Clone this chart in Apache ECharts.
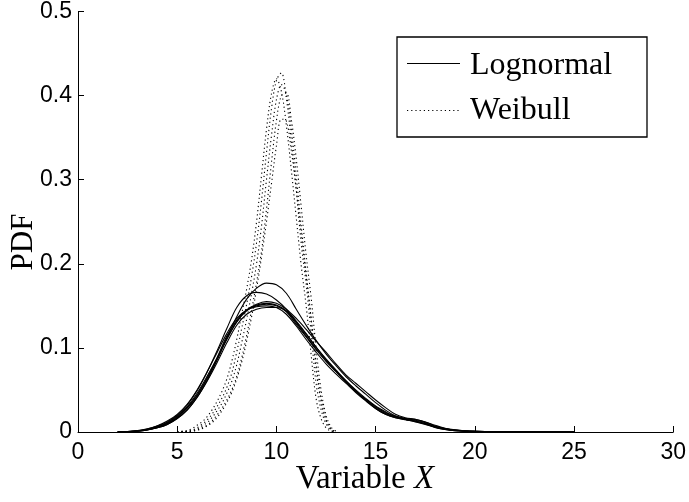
<!DOCTYPE html>
<html>
<head>
<meta charset="utf-8">
<script src="https://cdn.jsdelivr.net/npm/echarts@6/dist/echarts.min.js"></script>
<style>html,body{margin:0;padding:0;background:#fff;}#c{width:689px;height:502px;}</style>
</head>
<body>
<div id="c"></div>
<script>
// ---- data ----
const xTicks = [0, 5, 10, 15, 20, 25, 30];
const yTicks = [0, 0.1, 0.2, 0.3, 0.4, 0.5];

const logX = [2,2.5,3,3.5,4,4.5,5,5.5,6,6.5,7,7.5,8,8.5,9,9.5,10,10.5,11,11.5,12,12.5,13,13.5,14,14.5,15,15.5,16,16.5,17,17.5,18,18.5,19,19.5,20,21,22,23,24,25];
const logA = [0,0.0003,0.001,0.0025,0.005,0.009,0.016,0.026,0.041,0.061,0.085,0.112,0.137,0.158,0.171,0.177,0.175,0.165,0.146,0.127,0.109,0.093,0.079,0.066,0.055,0.045,0.035,0.026,0.019,0.015,0.012,0.009,0.0055,0.003,0.0015,0.0008,0.0005,0.0002,0.0001,0,0,0];
const logB = [0,0.0005,0.0015,0.0035,0.007,0.012,0.020,0.032,0.049,0.071,0.096,0.123,0.148,0.162,0.166,0.164,0.157,0.146,0.131,0.116,0.101,0.087,0.074,0.061,0.049,0.038,0.028,0.021,0.017,0.0145,0.0125,0.0095,0.0055,0.003,0.0015,0.001,0.0006,0.0003,0.0001,0,0,0];
const logC = [0,0.0004,0.0012,0.003,0.006,0.011,0.019,0.030,0.046,0.066,0.088,0.114,0.133,0.145,0.150,0.152,0.150,0.143,0.128,0.113,0.098,0.084,0.072,0.060,0.049,0.039,0.030,0.023,0.019,0.016,0.014,0.011,0.006,0.0035,0.002,0.0012,0.0008,0.0004,0.0002,0.0001,0.00005,0];
const logD = [0,0.0003,0.001,0.0025,0.005,0.009,0.016,0.026,0.041,0.060,0.082,0.106,0.127,0.140,0.146,0.148,0.148,0.144,0.132,0.117,0.101,0.086,0.073,0.061,0.050,0.040,0.031,0.024,0.018,0.015,0.013,0.010,0.006,0.0035,0.002,0.0012,0.0008,0.0004,0.0002,0.0001,0.00005,0];
const logE = [0,0.0004,0.0012,0.003,0.0055,0.010,0.017,0.028,0.043,0.063,0.086,0.110,0.131,0.145,0.152,0.155,0.153,0.146,0.135,0.122,0.108,0.095,0.081,0.068,0.058,0.048,0.038,0.029,0.021,0.017,0.015,0.012,0.007,0.004,0.002,0.0012,0.0008,0.0004,0.0002,0.0001,0.00005,0];
const logF = [0.0001,0.0006,0.0016,0.0038,0.0075,0.013,0.021,0.033,0.050,0.071,0.094,0.117,0.135,0.145,0.149,0.150,0.148,0.140,0.126,0.110,0.095,0.081,0.069,0.058,0.047,0.037,0.028,0.021,0.017,0.015,0.013,0.010,0.0065,0.004,0.0022,0.0013,0.0008,0.0004,0.0002,0.0001,0.00005,0];
const logG = [0,0.0004,0.0011,0.0028,0.0058,0.010,0.018,0.029,0.044,0.064,0.087,0.111,0.131,0.144,0.151,0.153,0.151,0.144,0.130,0.114,0.099,0.085,0.072,0.059,0.048,0.038,0.029,0.022,0.018,0.016,0.015,0.012,0.008,0.0045,0.0025,0.0014,0.0009,0.0004,0.0002,0.0001,0.00005,0];

const weiX = [5,5.25,5.5,5.75,6,6.25,6.5,6.75,7,7.25,7.5,7.75,8,8.25,8.5,8.75,9,9.25,9.5,9.75,10,10.25,10.5,10.75,11,11.25,11.5,11.75,12,12.25,12.5,12.75,13];
const weiA = [0,0.0005,0.001,0.002,0.005,0.009,0.014,0.021,0.030,0.040,0.053,0.070,0.095,0.123,0.152,0.185,0.225,0.275,0.332,0.384,0.418,0.427,0.397,0.346,0.289,0.224,0.176,0.118,0.058,0.027,0.010,0.002,0];
const weiB = [0,0.0003,0.0008,0.0015,0.0035,0.007,0.011,0.017,0.025,0.034,0.046,0.060,0.080,0.106,0.134,0.165,0.200,0.245,0.300,0.352,0.395,0.413,0.402,0.360,0.305,0.245,0.190,0.135,0.075,0.036,0.014,0.003,0];
const weiC = [0,0,0.0005,0.001,0.0025,0.005,0.008,0.013,0.020,0.028,0.038,0.050,0.066,0.088,0.115,0.145,0.178,0.215,0.265,0.320,0.370,0.400,0.403,0.372,0.325,0.268,0.210,0.160,0.100,0.050,0.020,0.006,0.001];
const weiD = [0.0005,0.001,0.002,0.004,0.008,0.012,0.018,0.026,0.036,0.048,0.063,0.084,0.110,0.140,0.170,0.205,0.250,0.305,0.360,0.402,0.420,0.405,0.365,0.312,0.255,0.198,0.150,0.092,0.040,0.016,0.005,0.001,0];
const weiE = [0,0,0.0003,0.001,0.002,0.004,0.007,0.011,0.017,0.025,0.035,0.047,0.063,0.083,0.108,0.137,0.170,0.208,0.250,0.295,0.340,0.372,0.370,0.335,0.288,0.236,0.185,0.135,0.082,0.040,0.015,0.004,0];

const legendNames = ['Lognormal', 'Weibull'];
const xTitle = 'Variable ';
const xTitleItalic = 'X';
const yTitle = 'PDF';

// ---- chart ----
const serif = '"Liberation Serif", "DejaVu Serif", serif';
const sans = '"Liberation Sans", Arial, sans-serif';
const dotDash = [1.2, 3];

const logSeries = [logA, logB, logC, logD, logE, logF, logG].map(arr => ({
  type: 'line', name: legendNames[0], symbol: 'none', smooth: 0.35,
  data: logX.map((x, i) => [x, arr[i]]),
  lineStyle: { color: '#000', width: 1.1 }, itemStyle: { color: '#000' },
  silent: true, z: 3
}));
const weiSeries = [weiA, weiB, weiC, weiD, weiE].map(arr => ({
  type: 'line', name: legendNames[1], symbol: 'none', smooth: 0.35,
  data: weiX.map((x, i) => [x, arr[i]]),
  lineStyle: { color: '#000', width: 1.1, type: dotDash }, itemStyle: { color: '#000' },
  silent: true, z: 2
}));

const chart = echarts.init(document.getElementById('c'), null, { renderer: 'canvas' });
chart.setOption({
  animation: false,
  backgroundColor: '#fff',
  grid: { left: 78, right: 15, top: 10, bottom: 70, containLabel: false },
  xAxis: {
    type: 'value', min: xTicks[0], max: xTicks[xTicks.length - 1], interval: 5,
    axisLine: { show: true, lineStyle: { color: '#000', width: 1 } },
    axisTick: { show: true, inside: true, length: 6, lineStyle: { color: '#000' } },
    axisLabel: { color: '#000', fontFamily: sans, fontSize: 23, margin: 9 },
    splitLine: { show: false }
  },
  yAxis: {
    type: 'value', min: yTicks[0], max: yTicks[yTicks.length - 1], interval: 0.1,
    axisLine: { show: true, lineStyle: { color: '#000', width: 1 } },
    axisTick: { show: true, inside: true, length: 6, lineStyle: { color: '#000' } },
    axisLabel: { color: '#000', fontFamily: sans, fontSize: 23, margin: 6,
      formatter: v => (v === 0 ? '0' : v.toFixed(1)) },
    splitLine: { show: false }
  },
  graphic: [
    { type: 'text', z: 10, style: {
        text: '{n|' + xTitle + '}{i|' + xTitleItalic + '}',
        rich: { n: { fontFamily: serif, fontSize: 33, fill: '#000' },
                i: { fontFamily: serif, fontSize: 33, fontStyle: 'italic', fill: '#000' } },
        x: 365, y: 479, align: 'center', verticalAlign: 'middle' } },
    { type: 'text', x: 24, y: 242, rotation: Math.PI / 2, z: 10, style: {
        text: yTitle, fontFamily: serif, fontSize: 31, fill: '#000',
        align: 'center', verticalAlign: 'middle' } },
    // legend box
    { type: 'rect', z: 20, shape: { x: 397, y: 37, width: 250, height: 100 },
      style: { fill: '#fff', stroke: '#000', lineWidth: 1.3 } },
    { type: 'line', z: 21, shape: { x1: 407, y1: 63.5, x2: 460, y2: 63.5 },
      style: { stroke: '#000', lineWidth: 1.1 } },
    { type: 'text', z: 21, style: { text: legendNames[0], x: 470, y: 66,
      fontFamily: serif, fontSize: 32, fill: '#000', align: 'left', verticalAlign: 'middle' } },
    { type: 'line', z: 21, shape: { x1: 407, y1: 110.5, x2: 460, y2: 110.5 },
      style: { stroke: '#000', lineWidth: 1.1, lineDash: dotDash } },
    { type: 'text', z: 21, style: { text: legendNames[1], x: 470, y: 111,
      fontFamily: serif, fontSize: 32, fill: '#000', align: 'left', verticalAlign: 'middle' } }
  ],
  series: logSeries.concat(weiSeries)
});
</script>
</body>
</html>
